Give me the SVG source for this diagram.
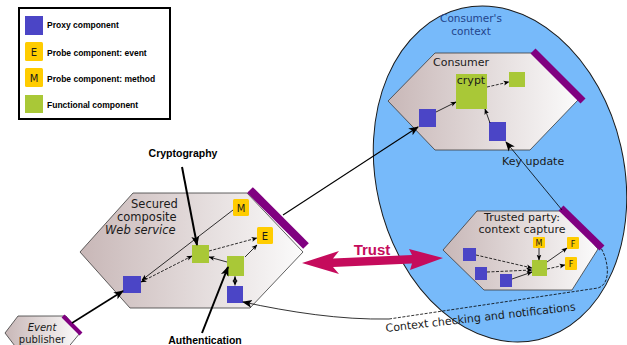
<svg xmlns="http://www.w3.org/2000/svg" width="627" height="345" viewBox="0 0 627 345">
<defs>
<linearGradient id="hx" x1="0" y1="0" x2="1" y2="0">
<stop offset="0" stop-color="#c8b7b7"/>
<stop offset="1" stop-color="#fbfbfb"/>
</linearGradient>
<marker id="a" viewBox="0 0 10 10" refX="9" refY="5" markerWidth="6" markerHeight="6" markerUnits="userSpaceOnUse" orient="auto-start-reverse"><path d="M0,1 L10,5 L0,9 L2.5,5 z" fill="#000"/></marker>
<marker id="b" viewBox="0 0 10 10" refX="9" refY="5" markerWidth="10" markerHeight="10" markerUnits="userSpaceOnUse" orient="auto-start-reverse"><path d="M0,1 L10,5 L0,9 L2.5,5 z" fill="#000"/></marker>
<style>
.hex{fill:url(#hx);stroke:#3a3a3a;stroke-width:0.8}
.bar{stroke:#800080;stroke-linecap:butt;fill:none}
.px{fill:#4b45c6}
.fn{fill:#a9c837}
.pb{fill:#ffcc00}
.t{font-family:"DejaVu Sans","Liberation Sans",sans-serif;fill:#1a1a1a}
.lg{font-family:"Liberation Sans",Arial,sans-serif;font-weight:bold;font-size:8.5px;fill:#000}
.ln{stroke:#000;fill:none;stroke-width:0.8}
.ds{stroke-dasharray:3,1.5}
.th{stroke:#000;fill:none;stroke-width:2}
.bl{font-family:"Liberation Sans",Arial,sans-serif;font-weight:bold;font-size:10.5px;fill:#000}
</style>
</defs>

<g id="consumers-context">
<ellipse cx="500" cy="174" rx="124" ry="170" transform="rotate(-13 500 174)" fill="#77bafa" stroke="#1a1a1a" stroke-width="1"/>
<text class="t" x="471" y="22" font-size="10.5" text-anchor="middle" style="fill:#23448a">Consumer's</text>
<text class="t" x="471" y="35" font-size="10.5" text-anchor="middle" style="fill:#23448a">context</text>
</g>

<g id="legend">
<rect x="19" y="8" width="151" height="111" fill="#fff" stroke="#000" stroke-width="2"/>
<rect class="px" x="25" y="16" width="18" height="19"/>
<text class="lg" x="47" y="28">Proxy component</text>
<rect class="pb" x="25" y="42" width="18" height="19" rx="1.5"/>
<text class="t" x="34" y="56" font-size="10" text-anchor="middle">E</text>
<text class="lg" x="47" y="56">Probe component: event</text>
<rect class="pb" x="25" y="68" width="18" height="19" rx="1.5"/>
<text class="t" x="34" y="82" font-size="10" text-anchor="middle">M</text>
<text class="lg" x="47" y="82">Probe component: method</text>
<rect class="fn" x="25" y="95" width="18" height="18"/>
<text class="lg" x="47" y="108">Functional component</text>
</g>

<g id="secured-service">
<polygon class="hex" points="80,252 133,193 247,193 303,252 250,308 130,308"/>
<line class="bar" x1="250" y1="190" x2="306" y2="246" stroke-width="8"/>
<text class="t" x="131" y="208" font-size="11.5">Secured</text>
<text class="t" x="117" y="221" font-size="11.5">composite</text>
<text class="t" x="105" y="234" font-size="11.5" font-style="italic">Web service</text>
</g>
<g id="secured-probe-m"><rect class="pb" x="233" y="199" width="16" height="17" rx="1.5"/><text class="t" x="241" y="212" font-size="10" text-anchor="middle">M</text></g>
<g id="secured-probe-e"><rect class="pb" x="257" y="227" width="16" height="17" rx="1.5"/><text class="t" x="265" y="240" font-size="10" text-anchor="middle">E</text></g>
<g id="secured-crypto"><rect class="fn" x="192" y="245" width="17" height="18"/></g>
<g id="secured-auth"><rect class="fn" x="227" y="256" width="17" height="20"/></g>
<g id="secured-proxy-in"><rect class="px" x="123" y="276" width="18" height="17"/></g>
<g id="secured-proxy-ctx"><rect class="px" x="227" y="286" width="16" height="17"/></g>

<g id="event-publisher">
<polygon class="hex" points="5,333 18,316 66,316 80,333 66,350 18,350"/>
<line class="bar" x1="63" y1="316" x2="81" y2="334" stroke-width="4"/>
<text class="t" x="42" y="331" font-size="10" font-style="italic" text-anchor="middle">Event</text>
<text class="t" x="42" y="343" font-size="10" text-anchor="middle">publisher</text>
</g>

<g id="consumer">
<polygon class="hex" points="388,101 435,53 533,53 578,100 530,150 435,150"/>
<line class="bar" x1="533" y1="51" x2="583" y2="101" stroke-width="7"/>
<text class="t" x="433" y="66" font-size="11">Consumer</text>
</g>
<g id="consumer-crypt"><rect class="fn" x="456" y="74" width="31" height="35"/><text class="t" x="471" y="84" font-size="11" text-anchor="middle">crypt</text></g>
<g id="consumer-func"><rect class="fn" x="509" y="72" width="16" height="15"/></g>
<g id="consumer-proxy-in"><rect class="px" x="419" y="109" width="17" height="18"/></g>
<g id="consumer-proxy-key"><rect class="px" x="489" y="122" width="17" height="19"/></g>

<g id="trusted-party">
<polygon class="hex" points="443,250 477,211 566,211 598,249 572,290 484,290"/>
<line class="bar" x1="561" y1="208" x2="602" y2="248" stroke-width="7"/>
<text class="t" x="522" y="221" font-size="11" text-anchor="middle">Trusted party:</text>
<text class="t" x="522" y="233" font-size="11" text-anchor="middle">context capture</text>
</g>
<g id="trusted-probe-m"><rect class="pb" x="533" y="237" width="12" height="11" rx="1"/><text class="t" x="539" y="246" font-size="8" text-anchor="middle">M</text></g>
<g id="trusted-probe-f1"><rect class="pb" x="567" y="237" width="12" height="12" rx="1"/><text class="t" x="573" y="246.5" font-size="8" text-anchor="middle">F</text></g>
<g id="trusted-probe-f2"><rect class="pb" x="565" y="257" width="12" height="13" rx="1"/><text class="t" x="571" y="267" font-size="8" text-anchor="middle">F</text></g>
<g id="trusted-func"><rect class="fn" x="532" y="260" width="15" height="16"/></g>
<g id="trusted-proxy-1"><rect class="px" x="463" y="248" width="13" height="13"/></g>
<g id="trusted-proxy-2"><rect class="px" x="475" y="267" width="12" height="13"/></g>
<g id="trusted-proxy-3"><rect class="px" x="500" y="274" width="12" height="13"/></g>

<g id="cryptography-label"><text class="bl" x="183" y="157" text-anchor="middle">Cryptography</text></g>
<g id="authentication-label"><text class="bl" x="205" y="344" text-anchor="middle">Authentication</text></g>

<g id="connectors">
<line class="ln" x1="233" y1="210" x2="142" y2="280" marker-end="url(#a)"/>
<line class="ln ds" x1="141" y1="282" x2="192" y2="256" marker-start="url(#a)" marker-end="url(#a)"/>
<line class="ln ds" x1="209" y1="251" x2="257" y2="238" marker-end="url(#a)"/>
<line class="ln" x1="227" y1="262" x2="209" y2="257" marker-end="url(#a)"/>
<line class="ln" x1="245" y1="257" x2="257" y2="245" marker-end="url(#a)"/>
<line class="ln ds" x1="235" y1="276.5" x2="235" y2="285.5" marker-start="url(#a)" marker-end="url(#a)"/>
<line stroke="#000" stroke-width="1.6" x1="72" y1="323" x2="123" y2="291" marker-end="url(#b)"/>
<line class="th" x1="182" y1="167" x2="197" y2="245" marker-end="url(#b)"/>
<line class="th" x1="202" y1="333" x2="228" y2="267" marker-end="url(#b)"/>
<line stroke="#000" stroke-width="1.1" x1="283" y1="215" x2="418" y2="127" marker-end="url(#b)"/>
<line class="ln" x1="436" y1="112" x2="456" y2="102" marker-end="url(#a)"/>
<line class="ln ds" x1="487" y1="87" x2="509" y2="82" marker-end="url(#a)"/>
<line class="ln" x1="490" y1="123" x2="485" y2="109" marker-end="url(#a)"/>
<line class="ln" x1="562" y1="210" x2="506" y2="142" marker-end="url(#b)"/>
<text class="t" x="502" y="165" font-size="11">Key update</text>
<line class="ln ds" x1="476" y1="255" x2="532" y2="268" marker-end="url(#a)"/>
<line class="ln ds" x1="487" y1="272" x2="532" y2="270" marker-end="url(#a)"/>
<line class="ln" x1="512" y1="279" x2="532" y2="272" marker-end="url(#a)"/>
<line class="ln" x1="539" y1="248" x2="539" y2="260" marker-end="url(#a)"/>
<line class="ln" x1="547" y1="262" x2="567" y2="248" marker-end="url(#a)"/>
<line class="ln ds" x1="547" y1="269" x2="565" y2="265" marker-end="url(#a)"/>
<path class="ln" stroke-width="1" d="M389,319 C340,320 290,312 243,302" marker-end="url(#b)"/>
<path class="ln ds" stroke-width="1" d="M389,319 L598,288 C611,284 609,262 601,248"/>
<text class="t" x="386" y="332" font-size="11" transform="rotate(-6.5 386 332)">Context checking and notifications</text>
<polygon fill="#c50b5c" points="302,263 339,251 333,258.5 412,255 409,249 443,258 410,270 412,263.5 333,267 339,274"/>
<text x="372" y="255" font-family="Liberation Sans,Arial,sans-serif" font-size="15" font-weight="bold" fill="#c50b5c" text-anchor="middle">Trust</text>
</g>
</svg>
